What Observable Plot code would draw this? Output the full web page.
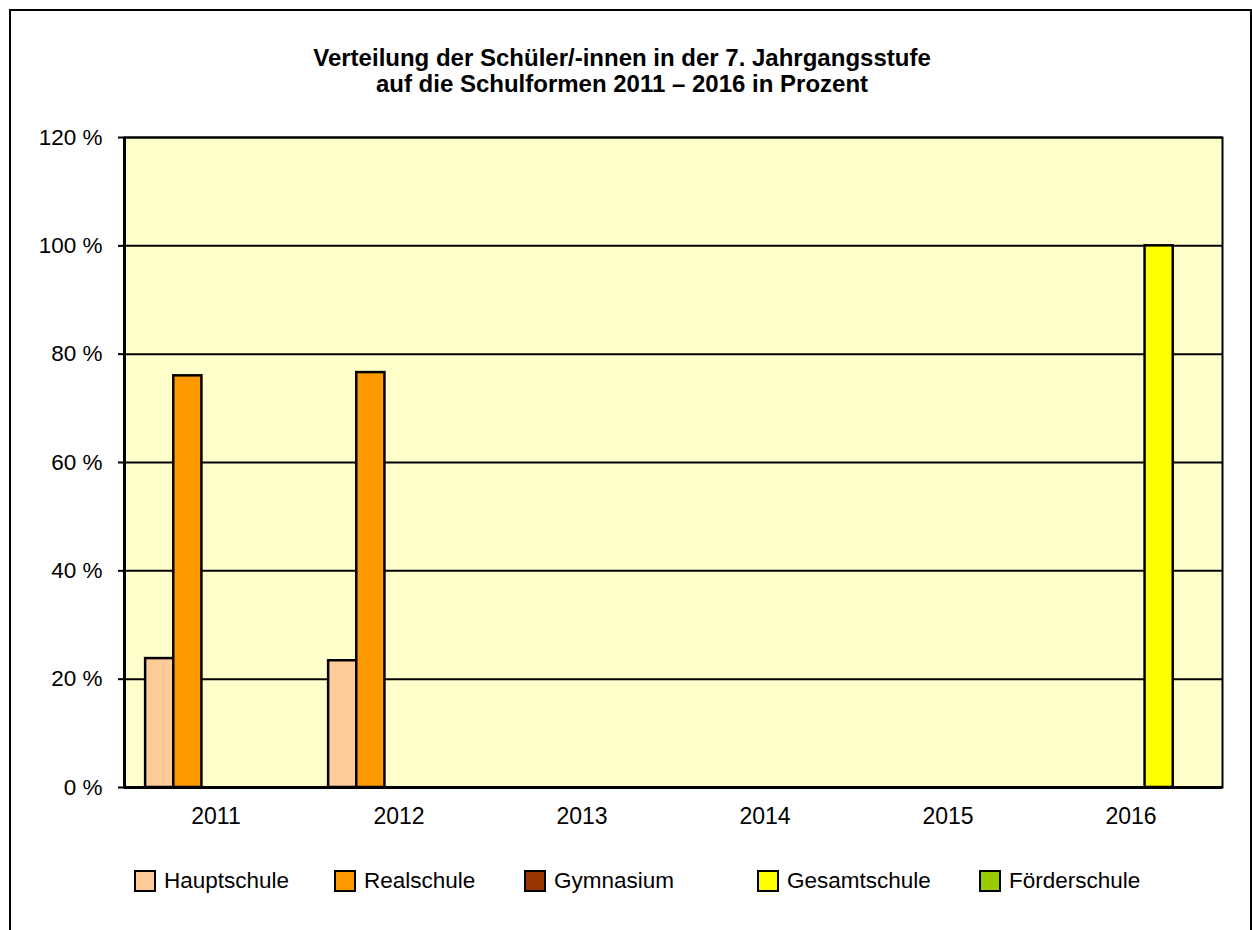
<!DOCTYPE html>
<html>
<head>
<meta charset="utf-8">
<script src="https://cdn.jsdelivr.net/npm/d3@7"></script>
<script src="https://cdn.jsdelivr.net/npm/@observablehq/plot@0.6"></script>
<style>
  html, body { margin: 0; padding: 0; background: #fff; overflow: hidden; }
  body { width: 1252px; height: 930px; position: relative; font-family: "Liberation Sans", Arial, sans-serif; }
  #border { position: absolute; left: 9px; top: 9px; width: 1239px; height: 1000px; border: 2px solid #000; }
  #title { position: absolute; left: 0; top: 45px; width: 1244px; text-align: center; font-weight: bold; font-size: 24px; line-height: 26px; color: #000; }
  #chart { position: absolute; left: 0; top: 0; }
  .lg { position: absolute; top: 869px; height: 23px; display: flex; align-items: center; font-size: 22.5px; color: #000; white-space: nowrap; }
  .lg .sw { width: 22px; height: 22px; box-sizing: border-box; border: 2px solid #000; margin-right: 8px; }
</style>
</head>
<body>
<div id="border"></div>
<div id="title">Verteilung der Schüler/-innen in der 7. Jahrgangsstufe<br>auf die Schulformen 2011 – 2016 in Prozent</div>
<div id="chart"></div>
<div id="legend"></div>
<script>
// ---- data ----
const years = ["2011", "2012", "2013", "2014", "2015", "2016"];
const schools = ["Hauptschule", "Realschule", "Gymnasium", "Gesamtschule", "Förderschule"];
const hauptschule  = [23.8, 23.4, 0, 0, 0, 0];
const realschule   = [76.0, 76.6, 0, 0, 0, 0];
const gymnasium    = [0, 0, 0, 0, 0, 0];
const gesamtschule = [0, 0, 0, 0, 0, 100];
const foerderschule = [0, 0, 0, 0, 0, 0];
const yTicks = [0, 20, 40, 60, 80, 100, 120];
const colors = ["#FFCC99", "#FF9900", "#993300", "#FFFF00", "#99CC00"];

// ---- build table ----
const series = [hauptschule, realschule, gymnasium, gesamtschule, foerderschule];
const nS = schools.length;
const gap = 1.5; // Excel gap width 150%
const unit = 1 / (nS + gap);
const rows = [];
years.forEach((yr, i) => {
  series.forEach((vals, k) => {
    const v = vals[i];
    if (v > 0) {
      const x1 = i + (gap / 2) * unit + k * unit;
      rows.push({ year: yr, school: schools[k], value: v, x1, x2: x1 + unit });
    }
  });
});

const chart = Plot.plot({
  width: 1252,
  height: 840,
  marginLeft: 124,
  marginRight: 30,
  marginTop: 137,
  marginBottom: 53,
  style: { fontFamily: "Liberation Sans, Arial, sans-serif", fontSize: "22px", color: "#000", background: "transparent" },
  x: { domain: [0, years.length], axis: null },
  y: { domain: [0, 120], axis: null },
  color: { domain: schools, range: colors },
  marks: [
    Plot.frame({ fill: "#FFFFCC", stroke: null }),
    Plot.ruleY(yTicks.filter(d => d > 0), { stroke: "#000", strokeWidth: 2 }),
    Plot.rectY(rows, { x1: "x1", x2: "x2", y: "value", fill: "school", stroke: "#000", strokeWidth: 2.5 }),
    Plot.frame({ stroke: "#000", strokeWidth: 2 }),
    Plot.ruleX([0], { stroke: "#000", strokeWidth: 3 }),
    Plot.ruleY([0], { stroke: "#000", strokeWidth: 3 }),
    Plot.axisY({ ticks: yTicks, tickFormat: d => d + " %", tickSize: 6, tickPadding: 16, strokeWidth: 2, fontSize: 22.5, label: null }),
    Plot.axisX({ ticks: years.map((_, i) => i + 0.5), tickFormat: d => years[Math.floor(d)], tickSize: 0, tickPadding: 20, fontSize: 23, label: null })
  ]
});
document.getElementById("chart").appendChild(chart);

// ---- legend ----
const legendLefts = [134, 334, 524, 757, 979];
const legend = document.getElementById("legend");
schools.forEach((s, k) => {
  const item = document.createElement("div");
  item.className = "lg";
  item.style.left = legendLefts[k] + "px";
  const sw = document.createElement("div");
  sw.className = "sw";
  sw.style.background = colors[k];
  const t = document.createElement("span");
  t.textContent = s;
  item.appendChild(sw);
  item.appendChild(t);
  legend.appendChild(item);
});
</script>
</body>
</html>
